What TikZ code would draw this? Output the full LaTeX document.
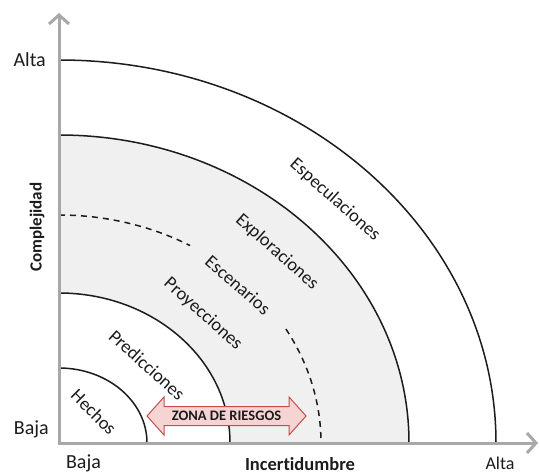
\documentclass[tikz,border=0pt]{standalone}
\usepackage{fontspec}
\setmainfont{Carlito}[Ligatures=NoCommon]
\usetikzlibrary{arrows.meta}
\definecolor{axisgray}{HTML}{A8A8A8}
\definecolor{bandgray}{HTML}{F0F0F0}
\definecolor{riskfill}{HTML}{F7D4D4}
\definecolor{riskline}{HTML}{C0504D}
\definecolor{ink}{HTML}{1C1C1C}

\begin{document}
\begin{tikzpicture}[x=1pt,y=1pt,
  axis/.style={draw=axisgray,line width=3pt,line join=miter,
    {Straight Barb[length=9pt,width=20pt]}-{Straight Barb[length=9pt,width=20pt]}},
  ring/.style={draw=ink,line width=1.5pt},
  dashring/.style={ring,dash pattern=on 6pt off 5pt},
  ringlabel/.style={text=ink,inner sep=0pt,font=\fontsize{18.5}{18.5}\selectfont},
  axislabel/.style={text=ink,inner sep=0pt,font=\fontsize{20}{20}\selectfont},
  axistitle/.style={text=ink,inner sep=0pt,font=\bfseries\fontsize{18.5}{18.5}\selectfont},
  riskbody/.style={draw=riskline,fill=riskfill,line width=1pt,line join=miter},
  risktext/.style={text=ink,inner sep=0pt,font=\bfseries\fontsize{14.5}{14.5}\selectfont},
]
\useasboundingbox (-59,-31) rectangle (481,443);
\fill[white] (-59,-31) rectangle (481,443);

% shaded band between the second and fourth rings
\begin{scope}
  \clip (0,0) rectangle (481,443);
  \fill[bandgray] (0,0) ellipse[x radius=350,y radius=308];
  \fill[white] (0,0) ellipse[x radius=171,y radius=150];
\end{scope}

% rings
\draw[ring] (0,75) arc[start angle=90,end angle=0,x radius=88,y radius=75];
\draw[ring] (0,150) arc[start angle=90,end angle=0,x radius=171,y radius=150];
\draw[dashring] (0,228) arc[start angle=90,end angle=60,x radius=262,y radius=228];
\draw[dashring] ({262*cos(30)},{228*sin(30)}) arc[start angle=30,end angle=0,x radius=262,y radius=228];
\draw[ring] (0,308) arc[start angle=90,end angle=0,x radius=350,y radius=308];
\draw[ring] (0,383) arc[start angle=90,end angle=0,x radius=437,y radius=383];

% axes
\coordinate (O) at (0,0);
\coordinate (ytip) at (0,430);
\coordinate (xtip) at (479,0);
\draw[axis] (ytip) -- (O) -- (xtip);

% ring labels
\node[ringlabel,rotate=-45] (hechos) at (35,31) {Hechos};
\node[ringlabel,rotate=-42] (pred) at (88,78) {Predicciones};
\node[ringlabel,rotate=-42] (proy) at (144,129) {Proyecciones};
\node[ringlabel,rotate=-41] (esc) at (179,158) {Escenarios};
\node[ringlabel,rotate=-41.5] (expl) at (218,191) {Exploraciones};
\node[ringlabel,rotate=-41.5] (espec) at (276,243) {Especulaciones};

% risk zone: double-headed block arrow with its caption
\draw[riskbody] (88,27) -- (105,46) -- (105,36.5) -- (230,36.5) -- (230,46)
  -- (247,27) -- (230,8) -- (230,17.5) -- (105,17.5) -- (105,8) -- cycle;
\node[risktext] (risk) at (167.5,27.5) {ZONA DE RIESGOS};

% axis labels
\node[axislabel,anchor=base east] (yhigh) at (-13,376) {Alta};
\node[axislabel,anchor=base east] (ylow) at (-10,9) {Baja};
\node[axislabel,anchor=base] (xlow) at (24.5,-25) {Baja};
\node[axislabel,anchor=base,font=\fontsize{18}{18}\selectfont] (xhigh) at (441,-26) {Alta};
\node[axistitle,anchor=base] (xtitle) at (241,-27) {Incertidumbre};
\node[axistitle,rotate=90,font=\bfseries\fontsize{17}{17}\selectfont] (ytitle) at (-22,216) {Complejidad};
\end{tikzpicture}
\end{document}
